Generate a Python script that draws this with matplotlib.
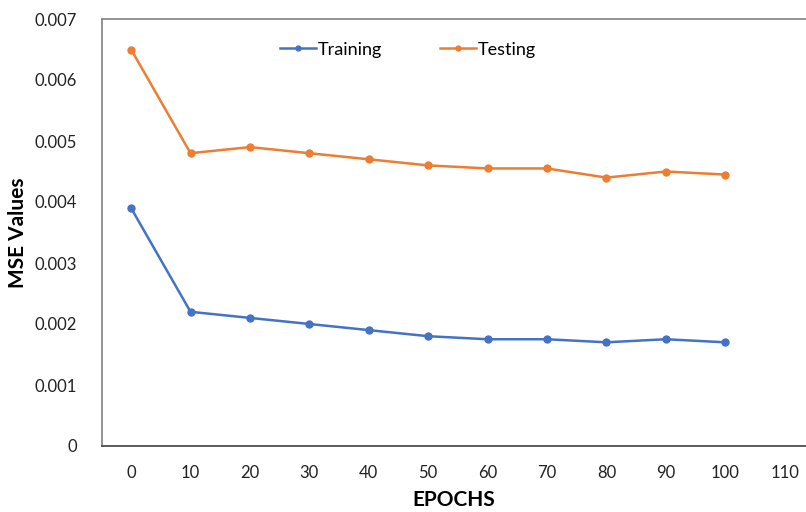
import matplotlib

matplotlib.use("Agg")
import matplotlib.pyplot as plt

plt.rcParams["font.family"] = ["Lato", "DejaVu Sans"]

# MSE per epoch checkpoint
epochs = [0, 10, 20, 30, 40, 50, 60, 70, 80, 90, 100]
training_mse = [0.0039, 0.0022, 0.0021, 0.0020, 0.0019, 0.0018,
                0.00175, 0.00175, 0.0017, 0.00175, 0.0017]
testing_mse = [0.0065, 0.0048, 0.0049, 0.0048, 0.0047, 0.0046,
               0.00455, 0.00455, 0.0044, 0.0045, 0.00445]
x_ticks = [0, 10, 20, 30, 40, 50, 60, 70, 80, 90, 100, 110]
y_ticks = [0, 0.001, 0.002, 0.003, 0.004, 0.005, 0.006, 0.007]

BLUE = "#4472C4"
ORANGE = "#ED7D31"

fig = plt.figure(figsize=(8.06, 5.12), dpi=100)
ax = fig.add_axes([102 / 806, 1 - 446 / 512, 1 - 102 / 806, (446 - 19) / 512])

ax.plot(epochs, training_mse, color=BLUE, lw=1.8, marker="o", ms=5,
        label="Training")
ax.plot(epochs, testing_mse, color=ORANGE, lw=1.8, marker="o", ms=5,
        label="Testing")

ax.set_xlim(-4.9, 113.6)
ax.set_ylim(0, 0.007)
ax.set_xticks(x_ticks)
ax.set_yticks(y_ticks)
ax.set_yticklabels(["0" if v == 0 else f"{v:.3f}" for v in y_ticks])
ax.tick_params(length=0, labelsize=12, colors="#222222")
ax.tick_params(axis="y", pad=18)
ax.tick_params(axis="x", pad=14)

ax.spines["right"].set_visible(False)
ax.spines["top"].set_color("#808080")
ax.spines["left"].set_color("#808080")
ax.spines["bottom"].set_color("#404040")
for s in ax.spines.values():
    s.set_linewidth(1.2)

ax.set_xlabel("EPOCHS", fontsize=15, fontweight="bold", labelpad=6)
ax.set_ylabel("MSE Values", fontsize=15, fontweight="bold", labelpad=5)

ax.legend(loc="upper center", bbox_to_anchor=(0.435, 0.985), ncol=2,
          frameon=False, fontsize=13, handlelength=2.0, handletextpad=0.1,
          columnspacing=3.2, markerscale=0.7)

fig.savefig("out.png", dpi=100)
